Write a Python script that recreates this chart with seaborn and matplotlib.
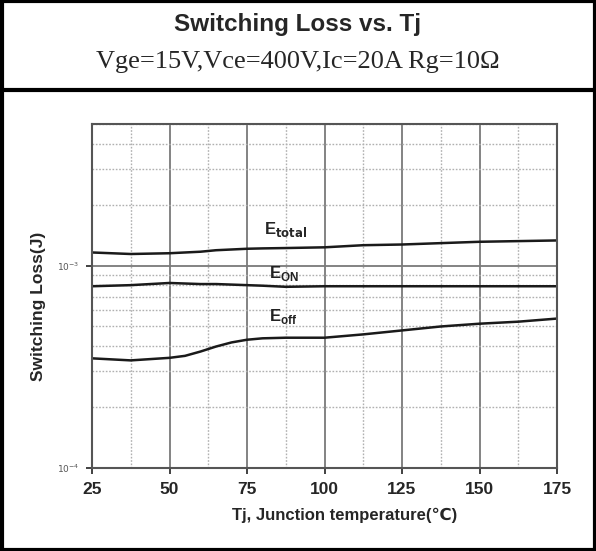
"""
Switching Loss vs. Tj - recreated IGBT datasheet curve
"""

import math

import matplotlib.pyplot as plt
import matplotlib.ticker as mticker
import pandas as pd
import seaborn as sns
from matplotlib.lines import Line2D

# Junction temperature (degC)
tj = [25, 37.5, 50, 55, 60, 65, 70, 75, 80, 87.5, 100, 112.5, 125, 137.5, 150, 162.5, 175]

# Energies (J)
e_total = [1.16e-3, 1.14e-3, 1.15e-3, 1.16e-3, 1.17e-3, 1.19e-3, 1.20e-3, 1.21e-3, 1.215e-3,
           1.22e-3, 1.23e-3, 1.26e-3, 1.27e-3, 1.29e-3, 1.31e-3, 1.32e-3, 1.33e-3]
e_on = [7.9e-4, 8.0e-4, 8.2e-4, 8.15e-4, 8.1e-4, 8.1e-4, 8.05e-4, 8.0e-4, 7.95e-4,
        7.85e-4, 7.9e-4, 7.9e-4, 7.9e-4, 7.9e-4, 7.9e-4, 7.9e-4, 7.9e-4]
e_off = [3.48e-4, 3.40e-4, 3.50e-4, 3.58e-4, 3.76e-4, 3.98e-4, 4.17e-4, 4.30e-4, 4.37e-4,
         4.40e-4, 4.40e-4, 4.57e-4, 4.78e-4, 5.0e-4, 5.16e-4, 5.28e-4, 5.47e-4]

x_ticks = [25, 50, 75, 100, 125, 150, 175]

title = "Switching Loss vs. Tj"
subtitle = "Vge=15V,Vce=400V,Ic=20A Rg=10Ω"

sns.set_style("white")
plt.rcParams["font.family"] = ["Liberation Sans", "DejaVu Sans"]

df = pd.DataFrame({"tj": tj * 3,
                   "loss": e_total + e_on + e_off,
                   "curve": ["total"] * len(tj) + ["on"] * len(tj) + ["off"] * len(tj)})

fig = plt.figure(figsize=(5.96, 5.51), dpi=100)
ax = fig.add_axes([92 / 596, 83 / 551, 465 / 596, 344 / 551])

sns.lineplot(data=df, x="tj", y="loss", units="curve", estimator=None,
             color="#1a1a1a", linewidth=1.8, ax=ax, legend=False)

ax.set_yscale("log")
ax.set_xlim(25, 175)
ax.set_ylim(1e-4, 5e-3)

# grid: solid major, dotted minor
ax.set_xticks(x_ticks)
ax.xaxis.set_minor_locator(mticker.MultipleLocator(12.5))
ax.yaxis.set_major_locator(mticker.LogLocator(base=10, numticks=5))
ax.yaxis.set_minor_locator(mticker.LogLocator(base=10, subs=range(2, 10), numticks=12))
ax.yaxis.set_minor_formatter(mticker.NullFormatter())
ax.yaxis.set_major_formatter(
    mticker.FuncFormatter(lambda v, p: f"$10^{{{int(round(math.log10(v)))}}}$"))
ax.grid(which="major", color="#7a7a7a", linewidth=1.3, linestyle="-")
ax.grid(which="minor", color="#b0b0b0", linewidth=1.0, linestyle=(0, (1.2, 1.2)))
ax.set_axisbelow(True)

ax.tick_params(axis="x", which="major", length=4, width=1.3, color="#333333",
               labelsize=12.5, pad=6)
ax.tick_params(axis="y", which="major", length=4, width=1.3, color="#333333",
               labelsize=6.5, labelcolor="#555555", pad=5)
ax.tick_params(which="minor", length=3, width=1.3, color="#333333")
ax.tick_params(axis="both", direction="out", left=True, bottom=True)
for lbl in ax.get_xticklabels():
    lbl.set_fontweight("bold")

for s in ax.spines.values():
    s.set_color("#555555")
    s.set_linewidth(1.5)

ax.set_xlabel("Tj, Junction temperature(℃)", fontsize=12, fontweight="bold", va="center")
ax.xaxis.set_label_coords(0.544, -0.137)
ax.set_ylabel("Switching Loss(J)", fontsize=12.5, fontweight="bold", va="center")
ax.yaxis.set_label_coords(-0.116, 0.47)

# curve labels
ax.text(80.5, 1.5e-3, "E$_{\\mathbf{total}}$", fontsize=12, fontweight="bold", va="center")
ax.text(82, 9.1e-4, "E$_{\\mathregular{ON}}$", fontsize=12, fontweight="bold", va="center",
        color="#222222")
ax.text(82, 5.6e-4, "E$_{\\mathregular{off}}$", fontsize=12, fontweight="bold", va="center",
        color="#222222")

# header text
fig.text(0.5, 1 - 24 / 551, title, ha="center", va="center", fontsize=17.5, fontweight="bold")
fig.text(0.5, 1 - 62 / 551, subtitle, ha="center", va="center", fontsize=19,
         family=["Liberation Serif", "DejaVu Serif"])


# outer frame and header divider
def hline(y, lw):
    fig.add_artist(Line2D([0, 1], [y, y], transform=fig.transFigure, color="black", lw=lw))


def vline(x, lw):
    fig.add_artist(Line2D([x, x], [0, 1], transform=fig.transFigure, color="black", lw=lw))


hline(1 - 90 / 551, 3)
hline(1 - 1 / 551, 3)
hline(1 / 551, 3)
vline(1.5 / 596, 3)
vline(1 - 1.5 / 596, 3)

fig.savefig("out.png", dpi=100)
